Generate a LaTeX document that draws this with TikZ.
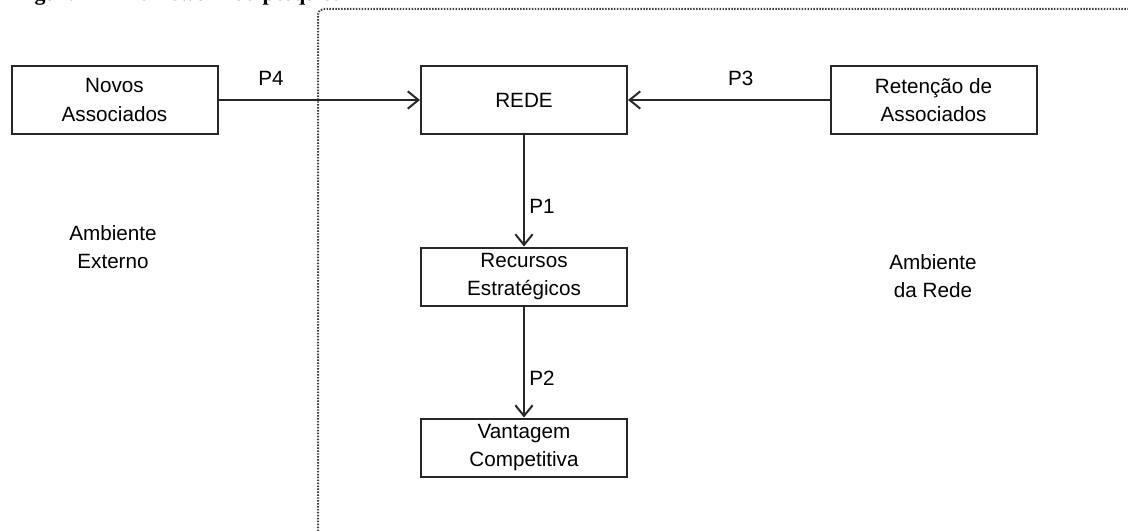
\documentclass[tikz,border=0pt]{standalone}
\usepackage{fontspec}
\setmainfont{Liberation Sans}
\newfontfamily\captionfont{Liberation Serif}
\usetikzlibrary{arrows.meta}
\definecolor{boxline}{RGB}{40,40,40}
\definecolor{frameline}{RGB}{60,60,60}
\tikzstyle{box}=[draw=boxline, line width=1.5pt, minimum width=154.5pt, minimum height=51pt, inner sep=0pt, align=center, font=\fontsize{15.5}{21.5}\selectfont]
\tikzstyle{smallbox}=[box, minimum height=43.5pt]
\tikzset{flow/.style={-{Straight Barb[length=8pt,width=13pt,line width=1.5pt]}, line width=1.5pt, color=boxline}}
\tikzstyle{plabel}=[text=black, font=\fontsize{15.5}{21.5}\selectfont]
\tikzstyle{ambiente}=[align=center, font=\fontsize{15.5}{21.5}\selectfont]
\tikzset{region/.style={line width=1.5pt, dash pattern=on 1.1pt off 1.1pt, color=frameline, rounded corners=4pt}}

\begin{document}
\begin{tikzpicture}[x=0.75pt,y=-0.75pt]
  \useasboundingbox (0,0) rectangle (1128,531);
  \draw (348,1) node[anchor=base east, font=\captionfont\bfseries\fontsize{16.5}{20}\selectfont] (Caption) {Figura 1 – Framework da pesquisa};

  %% Network border
  \draw[region] (318,531) -- (318,9) -- (1128,9);

  \draw (114.5,100) node[box] (Novos) {Novos\\Associados};
  \draw (524,100) node[box] (Rede) {REDE};
  \draw (933.5,100) node[box] (Retencao) {Retenção de\\Associados};
  \draw (524,276.5) node[smallbox] (Recursos) {Recursos\\Estratégicos};
  \draw (524,447.5) node[smallbox] (Vantagem) {Vantagem\\Competitiva};

  \draw[flow] (Novos) -- (Rede) node[plabel, pos=0.26, above=7pt] (P4) {P4};
  \draw[flow] (Retencao) -- (Rede) node[plabel, pos=0.44, above=7pt] (P3) {P3};
  \draw[flow] (Rede) -- (Recursos) node[plabel, pos=0.64, right] (P1) {P1};
  \draw[flow] (Recursos) -- (Vantagem) node[plabel, pos=0.65, right] (P2) {P2};

  %% Environments
  \draw (113,247) node[ambiente] (Externo) {Ambiente\\Externo};
  \draw (933,276) node[ambiente] (AmbRede) {Ambiente\\da Rede};
\end{tikzpicture}
\end{document}
